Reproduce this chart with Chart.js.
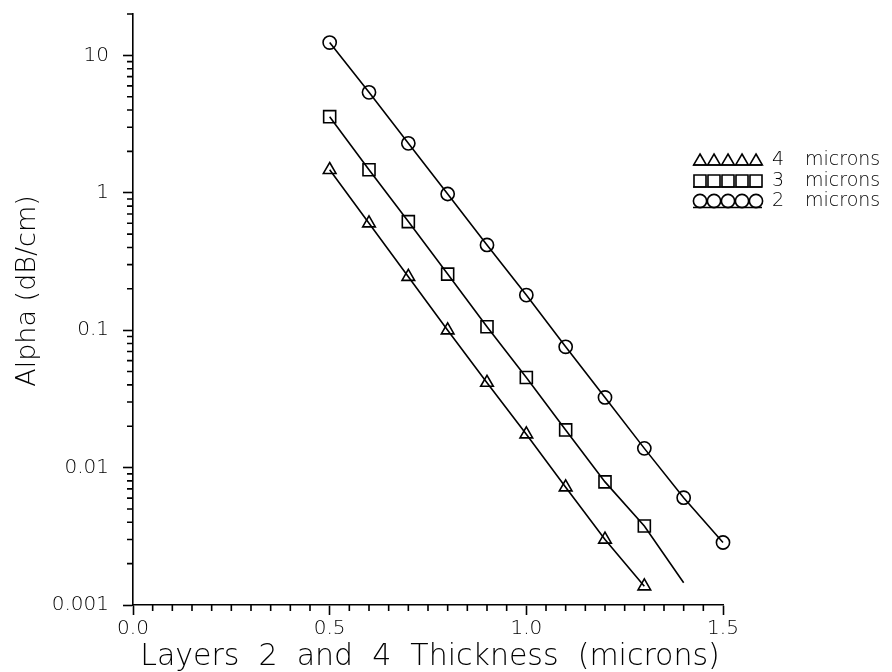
<!DOCTYPE html>
<html>
<head>
<meta charset="utf-8">
<script src="https://cdn.jsdelivr.net/npm/chart.js@4"></script>
<style>
  html, body { margin: 0; padding: 0; background: #fff; }
  canvas { display: block; }
</style>
</head>
<body>
<canvas id="c" width="892" height="672"></canvas>
<script>
// Attenuation vs. thickness of layers 2 and 4, for three core widths
const thickness2um = [0.5, 0.6, 0.7, 0.8, 0.9, 1.0, 1.1, 1.2, 1.3, 1.4, 1.5];
const alpha2um     = [12.4, 5.38, 2.29, 0.98, 0.417, 0.180, 0.0757, 0.0324, 0.0138, 0.00604, 0.00285];

const thickness3um = [0.5, 0.6, 0.7, 0.8, 0.9, 1.0, 1.1, 1.2, 1.3];
const alpha3um     = [3.58, 1.47, 0.617, 0.256, 0.106, 0.0453, 0.0188, 0.00787, 0.00376];
// the 3 micron fit line runs on past the last measured point
const lineEnd3um   = { x: 1.4, y: 0.00145 };

const thickness4um = [0.5, 0.6, 0.7, 0.8, 0.9, 1.0, 1.1, 1.2, 1.3];
const alpha4um     = [1.47, 0.60, 0.245, 0.100, 0.0415, 0.0175, 0.0072, 0.0030, 0.00137];

const seriesNumbers = ['4', '3', '2'];
const seriesUnit = 'microns';

const xTickValues = [0, 0.5, 1.0, 1.5];
const xTickLabels = ['0.0', '0.5', '1.0', '1.5'];
const yTickValues = [0.001, 0.01, 0.1, 1, 10];
const yTickLabels = ['0.001', '0.01', '0.1', '1', '10'];

const xTitle = 'Layers  2  and  4  Thickness  (microns)';
const yTitle = 'Alpha (dB/cm)';

const FONT = '"DejaVu Sans", "Liberation Sans", sans-serif';
const INK = '#000';
const LW = 1.6;

const toPoints = (xs, ys) => xs.map((x, i) => ({ x, y: ys[i] }));

const styles = {
  tri:  { pointStyle: 'triangle', radius: 7.3 },
  rect: { pointStyle: 'rect',     radius: 8.5 },
  circ: { pointStyle: 'circle',   radius: 6.6 }
};

function series(label, data, st, markerCount) {
  return {
    label,
    data,
    showLine: true,
    borderColor: '#000',
    borderWidth: LW,
    backgroundColor: 'rgba(0,0,0,0)',
    pointStyle: st.pointStyle,
    pointRadius: ctx => (ctx.dataIndex < markerCount ? st.radius : 0),
    pointHoverRadius: 0,
    pointBorderColor: '#000',
    pointBorderWidth: LW,
    pointBackgroundColor: 'rgba(0,0,0,0)',
    clip: false
  };
}

// minor ticks, axis titles and the marker-row legend
const decor = {
  id: 'decor',
  afterDraw(chart) {
    const { ctx, chartArea: a, scales: { x, y } } = chart;
    ctx.save();
    ctx.strokeStyle = '#000';
    ctx.lineWidth = LW;
    ctx.beginPath();
    for (let k = 1; k < 30; k++) {
      if (k % 10 === 0) continue;
      const px = x.getPixelForValue(k * 0.05);
      ctx.moveTo(px, a.bottom);
      ctx.lineTo(px, a.bottom + 6);
    }
    for (let d = -3; d <= 1; d++) {
      for (let m = 2; m <= 9; m++) {
        const v = m * Math.pow(10, d);
        if (v > y.max + 1e-9) break;
        const py = y.getPixelForValue(v);
        ctx.moveTo(a.left - 6, py);
        ctx.lineTo(a.left, py);
      }
    }
    ctx.stroke();

    // axis titles
    ctx.fillStyle = INK;
    ctx.textAlign = 'center';
    ctx.textBaseline = 'alphabetic';
    ctx.font = '300 30px ' + FONT;
    ctx.fillText(xTitle, (a.left + a.right) / 2 + 2, 665);
    ctx.save();
    ctx.translate(35, 291);
    ctx.rotate(-Math.PI / 2);
    ctx.font = '300 27px ' + FONT;
    ctx.fillText(yTitle, 0, 0);
    ctx.restore();

    // legend: five markers over a base line, then the label
    const rows = [
      { st: styles.tri,  cy: 161.3, base: 165,   text: 160 },
      { st: styles.rect, cy: 181,   base: 187,   text: 181 },
      { st: styles.circ, cy: 201,   base: 207.5, text: 201 }
    ];
    rows.forEach((r, i) => {
      ctx.strokeStyle = '#000';
      ctx.lineWidth = LW;
      ctx.beginPath();
      ctx.moveTo(693, r.base);
      ctx.lineTo(762, r.base);
      ctx.stroke();
      ctx.fillStyle = 'rgba(0,0,0,0)';
      for (let j = 0; j < 5; j++) {
        Chart.helpers.drawPoint(ctx, {
          pointStyle: r.st.pointStyle, radius: r.st.radius, rotation: 0, borderWidth: LW
        }, 700 + 14 * j, r.cy);
      }
      ctx.fillStyle = INK;
      ctx.font = '300 19px ' + FONT;
      ctx.textAlign = 'left';
      ctx.textBaseline = 'middle';
      ctx.fillText(seriesNumbers[i], 772, r.text);
      ctx.fillText(seriesUnit, 805, r.text);
    });
    ctx.restore();
  }
};

new Chart(document.getElementById('c'), {
  type: 'scatter',
  data: {
    datasets: [
      series('4 microns', toPoints(thickness4um, alpha4um), styles.tri, alpha4um.length),
      series('3 microns', toPoints(thickness3um, alpha3um).concat([lineEnd3um]), styles.rect, alpha3um.length),
      series('2 microns', toPoints(thickness2um, alpha2um), styles.circ, alpha2um.length)
    ]
  },
  options: {
    responsive: false,
    animation: false,
    events: [],
    layout: { padding: { left: 0, top: 14, right: 169, bottom: 0 } },
    plugins: { legend: { display: false }, tooltip: { enabled: false } },
    scales: {
      x: {
        type: 'linear',
        min: 0,
        max: 1.5,
        afterFit: s => { s.height = 67; s.paddingLeft = 0; s.paddingRight = 0; },
        afterBuildTicks: s => { s.ticks = xTickValues.map(v => ({ value: v })); },
        grid: { display: true, drawOnChartArea: false, drawTicks: true, tickLength: 10, tickColor: '#000', tickWidth: LW },
        border: { display: true, color: '#000', width: LW },
        ticks: {
          autoSkip: false,
          maxRotation: 0,
          padding: 2,
          color: INK,
          font: { family: FONT, size: 20, weight: '300' },
          callback: (v, i) => xTickLabels[i]
        }
      },
      y: {
        type: 'logarithmic',
        min: 0.001,
        max: 20,
        afterFit: s => { s.width = 133; s.paddingTop = 0; s.paddingBottom = 0; },
        afterBuildTicks: s => { s.ticks = yTickValues.map(v => ({ value: v })); },
        grid: { display: true, drawOnChartArea: false, drawTicks: true, tickLength: 10, tickColor: '#000', tickWidth: LW },
        border: { display: true, color: '#000', width: LW },
        ticks: {
          autoSkip: false,
          padding: 14,
          color: INK,
          font: { family: FONT, size: 20, weight: '300' },
          callback: (v, i) => yTickLabels[i]
        }
      }
    }
  },
  plugins: [decor]
});
</script>
</body>
</html>
